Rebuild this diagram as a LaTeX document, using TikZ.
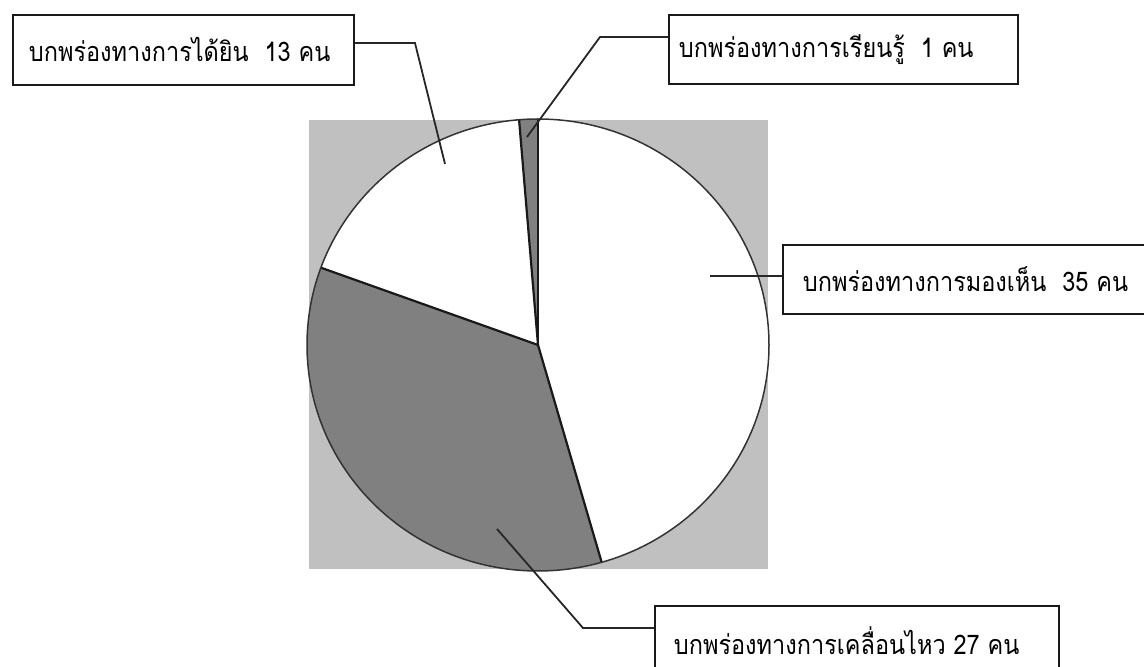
\documentclass[tikz,border=0pt]{standalone}
\usepackage{fontspec}
\newfontfamily\thai[Script=Thai, FakeStretch=0.87]{Loma}
\usetikzlibrary{calc}
\definecolor{bggray}{HTML}{C0C0C0}
\definecolor{darkslice}{HTML}{808080}
\tikzset{
  labelbox/.style={draw=black!90, line width=1.8pt, fill=white, anchor=north west,
    font=\thai\fontsize{27}{30}\selectfont, inner ysep=0pt},
  leader/.style={draw=black!85, line width=1.8pt},
  radial/.style={draw=black!90, line width=2.2pt},
  rim/.style={draw=black!80, line width=1.5pt},
}
\newcommand{\slice}[3]{% start angle, end angle, colour
  \fill[#3] (C) -- ($(C)+({231*cos(#1)},{226*sin(#1)})$)
    arc[start angle=#1, end angle=#2, x radius=231, y radius=226] -- cycle;}
\begin{document}
\begin{tikzpicture}[x=1pt,y=1pt]
\useasboundingbox (0,0) rectangle (1144,667);
% background
\fill[bggray] (309,98) rectangle (768,547);
\coordinate (C) at (538,322);
% slices
\slice{90}{-74}{white}
\slice{-74}{-200}{darkslice}
\slice{160}{94.7}{white}
\slice{94.7}{90}{darkslice}
% radial boundaries
\foreach \a in {90,-74,160,94.7}
  \draw[radial] (C) -- ($(C)+({231*cos(\a)},{226*sin(\a)})$);
% rim
\draw[rim] (C) ellipse[x radius=231, y radius=226];
% label boxes
\node[labelbox, minimum width=341pt, minimum height=70pt, inner xsep=16pt] (b1) at (12,653) {\makebox[309pt][l]{บกพร่องทางการได้ยิน\ \ 13 คน}};
\node[labelbox, minimum width=349pt, minimum height=69pt, inner xsep=10pt] (b2) at (668,653) {\makebox[329pt][l]{บกพร่องทางการเรียนรู้\ \ 1 คน}};
\node[labelbox, minimum width=378pt, minimum height=69pt, inner xsep=20pt] (b3) at (782,423) {\makebox[338pt][l]{บกพร่องทางการมองเห็น\ \ 35 คน}};
\node[labelbox, minimum width=404pt, minimum height=70pt, inner xsep=19pt] (b4) at (654,62) {\makebox[366pt][l]{บกพร่องทางการเคลื่อนไหว 27 คน}};
% leader coordinates
\coordinate (k1) at (415,624); \coordinate (e1) at (445,503);
\coordinate (k2) at (600,630); \coordinate (e2) at (527,530);
\coordinate (e3) at (710,391);
\coordinate (k4) at (583,39);  \coordinate (e4) at (497,138);
% leaders
\draw[leader] (b1.east |- k1) -- (k1) -- (e1);
\draw[leader] (b2.west |- k2) -- (k2) -- (e2);
\draw[leader] (b3.west |- e3) -- (e3);
\draw[leader] (b4.west |- k4) -- (k4) -- (e4);
\end{tikzpicture}
\end{document}
